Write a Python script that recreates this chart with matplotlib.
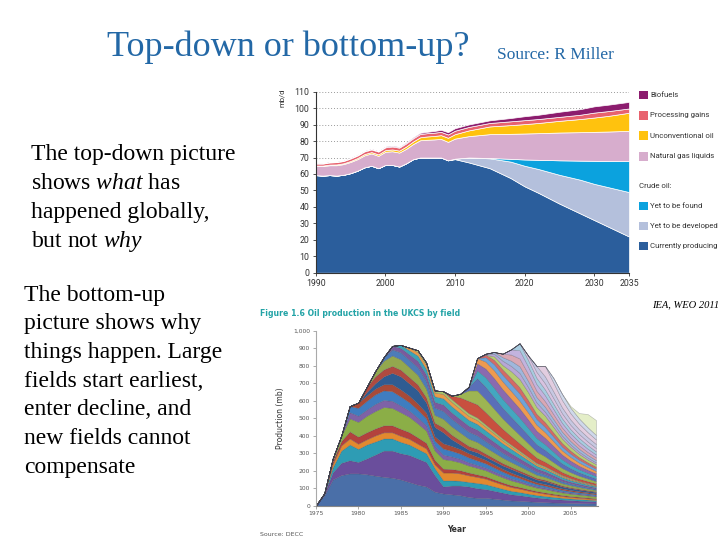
import matplotlib
matplotlib.use('Agg')
import matplotlib.pyplot as plt
import matplotlib.patches as mplpatches
import numpy as np

plt.rcParams['mathtext.fontset'] = 'custom'
plt.rcParams['mathtext.rm'] = 'Liberation Serif'
plt.rcParams['mathtext.it'] = 'Liberation Serif:italic'

# ---------------- top chart: IEA WEO 2011 world oil supply (mb/d) ----------------
weoYears = list(range(1990, 2011)) + [2012, 2015, 2018, 2020, 2022, 2025, 2028, 2030, 2032, 2035]
currentlyProducing = [59.3, 59, 59.3, 59, 59.5, 60.5, 62, 64, 65, 63.5, 65.5, 65.5, 64.5, 66.5, 69, 70, 70, 70, 70, 68.3, 69,
                      67, 63.5, 57.5, 52.5, 48.5, 42, 36, 32, 28, 22]
yetToBeDeveloped = [0] * 20 + [0.3, 3, 6, 10, 12.5, 14.5, 17.5, 20.5, 22, 24, 27]
yetToBeFound = [0] * 21 + [0, 0.2, 1.7, 3.8, 5.6, 8.8, 11.6, 14, 15.9, 18.8]
naturalGasLiquids = [5.5, 5.8, 6.0, 6.3, 6.5, 6.8, 7.0, 7.3, 7.5, 7.5, 8, 8.3, 8.5, 8.8, 9.2, 10.5, 10.8, 11, 11.3, 11.2, 12.2,
                     13, 14.5, 15.2, 15.8, 16.2, 16.9, 17.3, 17.6, 17.9, 18.4]
unconventionalOil = [0.3, 0.3, 0.4, 0.5, 0.5, 0.6, 0.7, 0.8, 0.8, 0.9, 1.0, 1.1, 1.2, 1.4, 1.6, 1.8, 2, 2.1, 2.3, 2.5, 2.7,
                     3.5, 4.7, 5.3, 5.7, 6.2, 7.1, 8, 8.7, 9.5, 11]
processingGains = [1.2, 1.2, 1.3, 1.4, 1.4, 1.5, 1.5, 1.6, 1.6, 1.7, 1.7, 1.8, 1.8, 1.9, 1.9, 2, 2, 2, 2, 2, 2.1,
                   2.1, 2.1, 2.3, 2.4, 2.4, 2.4, 2.6, 3, 2.9, 2.6]
biofuels = [0.3, 0.3, 0.3, 0.3, 0.3, 0.4, 0.4, 0.4, 0.4, 0.4, 0.5, 0.5, 0.5, 0.6, 0.6, 0.7, 0.8, 1.0, 1.2, 1.4, 1.5,
            1.5, 1.6, 2.0, 2.4, 2.6, 3.1, 3.4, 3.8, 3.9, 4]
weoLabels = ['Biofuels', 'Processing gains', 'Unconventional oil', 'Natural gas liquids',
             'Yet to be found', 'Yet to be developed', 'Currently producing']
weoColors = ['#8C1C6E', '#E8626E', '#FFC20E', '#D7ADCD', '#0BA2DE', '#B4C0DC', '#2B5E9C']

# ---------------- bottom chart: UKCS oil production by field (mb) ----------------
ukcsYears = list(range(1975, 2009))
# fields starting 1975-1980, values from 1975
fields1975 = [
    [0, 60, 150, 175, 185, 185, 180, 172, 165, 160, 150, 135, 120, 110, 80, 70, 65, 60, 50, 45, 45, 40, 35, 30, 28, 25, 22, 20, 18, 17, 16, 15, 14, 13],
    [0, 10, 40, 70, 75, 65, 90, 120, 150, 155, 150, 155, 150, 140, 95, 40, 50, 55, 60, 55, 50, 45, 40, 35, 32, 28, 25, 22, 20, 18, 16, 14, 13, 12],
    [0, 0, 30, 70, 90, 75, 80, 75, 70, 70, 65, 60, 55, 50, 40, 35, 30, 28, 26, 30, 28, 25, 22, 20, 18, 16, 14, 13, 12, 10, 9, 9, 8, 7],
    [0, 0, 20, 30, 35, 30, 30, 35, 35, 35, 35, 33, 30, 28, 22, 45, 45, 42, 38, 35, 32, 28, 25, 22, 20, 18, 16, 14, 12, 10, 9, 8, 7, 6],
    [0, 0, 15, 25, 40, 40, 40, 40, 40, 40, 40, 38, 36, 32, 25, 22, 20, 18, 16, 14, 13, 12, 11, 10, 9, 8, 7, 7, 6, 6, 5, 5, 5, 4],
    [0, 0, 15, 30, 75, 85, 95, 100, 105, 100, 95, 88, 80, 70, 55, 55, 50, 45, 40, 38, 35, 32, 30, 28, 25, 22, 20, 19, 17, 15, 14, 13, 12, 11],
    [0, 0, 0, 0, 35, 35, 35, 40, 40, 40, 38, 35, 33, 30, 25, 25, 22, 20, 18, 16, 15, 14, 12, 11, 10, 9, 8, 8, 7, 6, 6, 5, 5, 5],
    [0, 0, 0, 0, 35, 45, 50, 55, 55, 55, 52, 48, 45, 40, 30, 35, 32, 30, 28, 26, 24, 22, 20, 18, 16, 14, 12, 11, 10, 9, 8, 7, 7, 6],
    [0, 0, 0, 0, 0, 30, 30, 33, 35, 40, 40, 38, 36, 32, 25, 30, 28, 26, 24, 22, 20, 18, 16, 15, 13, 12, 10, 10, 9, 8, 7, 7, 6, 6],
    [0, 0, 0, 0, 0, 0, 20, 30, 45, 65, 75, 70, 75, 58, 53, 63, 38, 26, 20, 24, 18, 19, 19, 21, 19, 18, 16, 16, 14, 11, 10, 9, 8, 8],
]
# fields starting 1981-1987, values from 1981
fields1981 = [
    [30, 40, 40, 40, 38, 36, 34, 30, 25, 28, 26, 24, 22, 20, 18, 16, 14, 12, 11, 10, 9, 8, 7, 6, 5, 5, 4, 4],
    [0, 30, 50, 60, 60, 58, 55, 50, 45, 50, 48, 45, 42, 40, 37, 34, 31, 28, 25, 22, 19, 17, 15, 13, 12, 10, 9, 8],
    [0, 0, 20, 35, 40, 42, 45, 45, 42, 45, 44, 42, 40, 38, 35, 32, 29, 26, 23, 20, 17, 15, 13, 11, 10, 9, 8, 7],
    [0, 0, 0, 20, 25, 30, 35, 35, 32, 36, 35, 34, 33, 32, 30, 28, 26, 24, 22, 20, 18, 16, 14, 12, 10, 9, 8, 7],
    [0, 0, 0, 0, 17, 24, 30, 32, 32, 36, 36, 35, 34, 33, 31, 29, 27, 25, 22, 19, 16, 14, 13, 12, 10, 9, 8, 7],
    [0, 0, 0, 0, 0, 15, 20, 23, 22, 25, 25, 24, 23, 22, 21, 19, 17, 15, 13, 11, 9, 8, 7, 6, 5, 4, 4, 3],
    [0, 0, 0, 0, 0, 0, 11, 15, 12, 15, 16, 16, 16, 15, 13, 12, 11, 10, 9, 8, 7, 7, 6, 5, 5, 4, 4, 4],
]
# fields starting 1991-1996, values from 1991
fields1991 = [
    [20, 50, 70, 75, 70, 62, 55, 48, 42, 36, 30, 26, 22, 18, 15, 13, 11, 10],
    [0, 20, 60, 80, 75, 68, 60, 54, 48, 42, 36, 32, 27, 23, 20, 17, 15, 13],
    [0, 0, 20, 70, 70, 65, 60, 56, 52, 46, 40, 36, 31, 26, 22, 19, 17, 15],
    [0, 0, 0, 45, 55, 55, 52, 50, 48, 43, 37, 33, 29, 24, 21, 18, 16, 14],
    [0, 0, 0, 40, 50, 55, 55, 54, 52, 47, 41, 37, 32, 27, 23, 20, 17, 15],
    [0, 0, 0, 30, 40, 45, 45, 45, 44, 40, 35, 32, 28, 24, 21, 18, 16, 14],
    [0, 0, 0, 0, 25, 35, 38, 40, 42, 38, 33, 30, 26, 22, 19, 17, 15, 13],
    [0, 0, 0, 0, 15, 25, 30, 33, 35, 33, 29, 27, 23, 20, 17, 14, 12, 11],
    [0, 0, 0, 0, 0, 20, 25, 40, 47, 45, 39, 37, 32, 26, 22, 19, 16, 15],
]
# fields starting 1995-2005, values from 1995
fields1995 = [
    [5, 15, 25, 30, 35, 30, 26, 23, 20, 17, 14, 12, 11, 10],
    [0, 10, 20, 30, 38, 35, 31, 28, 25, 22, 19, 17, 15, 13],
    [0, 0, 20, 35, 45, 40, 36, 32, 28, 24, 21, 19, 17, 15],
    [0, 0, 0, 30, 47, 42, 38, 34, 30, 26, 23, 21, 19, 17],
    [0, 0, 0, 0, 40, 38, 36, 33, 30, 27, 24, 22, 20, 18],
    [0, 0, 0, 0, 0, 25, 34, 35, 32, 28, 25, 23, 21, 19],
    [0, 0, 0, 0, 0, 0, 34, 40, 38, 34, 30, 27, 25, 23],
    [0, 0, 0, 0, 0, 0, 0, 60, 50, 42, 36, 32, 29, 26],
    [0, 0, 0, 0, 0, 0, 0, 0, 27, 35, 32, 30, 28, 26],
    [0, 0, 0, 0, 0, 0, 0, 0, 0, 0, 9, 30, 75, 85],
]
colors1975 = ['#4A6FA8', '#6A4E9C', '#2E9CB4', '#E2892F', '#B3423D', '#8BAE47', '#7E62A6', '#3F7DC0', '#A84A38', '#2F5C92']
colors1981 = ['#B04A40', '#93A84E', '#4D7CB8', '#7A5A9E', '#3AA3B8', '#E89A48', '#A9C46A']
colors1991 = ['#C8503F', '#9DB552', '#5A6FB8', '#43A7C0', '#8A6AB0', '#EE9A50', '#6FA3D8', '#D46A66', '#B6CC72']
colors1995 = ['#B7A7D6', '#9FB7DC', '#D9A7B4', '#C3B3DE', '#A8CCE0', '#D8C3E0', '#C7C8E2', '#E2CDE0', '#CFD8EA', '#E4EEC8']


def pixelToFigure(x, y):
    return x / 720, 1 - y / 540


def padField(startYear, values):
    full = np.zeros(len(ukcsYears))
    i = ukcsYears.index(startYear)
    full[i:i + len(values)] = values
    return full


fig = plt.figure(figsize=(7.2, 5.4), dpi=100)

# ---------------- slide text ----------------
x, y = pixelToFigure(107, 47)
fig.text(x, y, 'Top-down or bottom-up?', fontsize=26, family='Liberation Serif', color='#2368A6', va='center')
x, y = pixelToFigure(497, 55)
fig.text(x, y, 'Source: R Miller', fontsize=12.5, family='Liberation Serif', color='#2368A6', va='center')

para1 = ['The top-down picture', r'shows $\mathit{what}$ has', 'happened globally,', r'but not $\mathit{why}$']
para2 = ['The bottom-up', 'picture shows why', 'things happen. Large', 'fields start earliest,',
         'enter decline, and', 'new fields cannot', 'compensate']
for i, line in enumerate(para1):
    x, y = pixelToFigure(31, 155 + i * 28.7)
    fig.text(x, y, line, fontsize=17, family='Liberation Serif', va='center')
for i, line in enumerate(para2):
    x, y = pixelToFigure(24, 295 + i * 28.7)
    fig.text(x, y, line, fontsize=17, family='Liberation Serif', va='center')

x, y = pixelToFigure(652, 305)
fig.text(x, y, 'IEA, WEO 2011', fontsize=7.6, family='Liberation Serif', style='italic', va='center')

# ---------------- top panel ----------------
narrow = ['Roboto', 'DejaVu Sans']
panel1 = plt.axes([315.7 / 720, 1 - 272.7 / 540, 313.3 / 720, 181 / 540])
series = [currentlyProducing, yetToBeDeveloped, yetToBeFound, naturalGasLiquids,
          unconventionalOil, processingGains, biofuels]
panel1.stackplot(weoYears, *series, colors=weoColors[::-1], edgecolor='white', linewidth=0.5)
panel1.set_xlim(1990, 2035)
panel1.set_ylim(0, 110)
panel1.set_yticks(range(0, 111, 10))
panel1.set_xticks([1990, 2000, 2010, 2020, 2030, 2035])
panel1.yaxis.grid(True, linestyle=(0, (1, 2)), color='#9A9A9A', linewidth=0.7)
panel1.set_axisbelow(True)
for side in ['top', 'right']:
    panel1.spines[side].set_visible(False)
panel1.spines['left'].set_color('#333333')
panel1.spines['bottom'].set_color('#333333')
panel1.tick_params(labelsize=6.3, length=2.5, width=0.6, color='#333333', labelcolor='#333333', pad=2)
for lab in panel1.get_xticklabels() + panel1.get_yticklabels():
    lab.set_family(narrow)
x, y = pixelToFigure(282, 98)
fig.text(x, y, 'mb/d', fontsize=5.5, rotation=90, va='center', ha='center', family=narrow, color='#333333')

legendRows = [95, 115.5, 135.7, 156.5, 206, 226, 246]
for label, color, row in zip(weoLabels, weoColors, legendRows):
    x, y = pixelToFigure(639, row + 4)
    fig.patches.append(mplpatches.Rectangle((x, y), 8.5 / 720, 8.5 / 540, transform=fig.transFigure,
                                            facecolor=color, edgecolor='none'))
    x, y = pixelToFigure(650, row)
    fig.text(x, y, label, fontsize=5.6, family=narrow, va='center', color='#333333')
x, y = pixelToFigure(639, 185.5)
fig.text(x, y, 'Crude oil:', fontsize=5.6, family=narrow, va='center', color='#333333')

# ---------------- bottom panel ----------------
panel2 = plt.axes([315.7 / 720, 1 - 505.7 / 540, 282 / 720, 174.7 / 540])
layers, layerColors = [], []
for start, group, cols in [(1975, fields1975, colors1975), (1981, fields1981, colors1981),
                           (1991, fields1991, colors1991), (1995, fields1995, colors1995)]:
    for values, col in zip(group, cols):
        layers.append(padField(start, values))
        layerColors.append(col)
panel2.stackplot(ukcsYears, *layers, colors=layerColors, edgecolor=(0.25, 0.25, 0.3, 0.35), linewidth=0.4)
panel2.set_xlim(1975, 2008.2)
panel2.set_ylim(0, 1000)
panel2.set_yticks(range(0, 1001, 100))
panel2.set_yticklabels(['0', '100', '200', '300', '400', '500', '600', '700', '800', '900', '1,000'])
panel2.set_xticks(range(1975, 2006, 5))
for side in ['top', 'right']:
    panel2.spines[side].set_visible(False)
panel2.spines['left'].set_color('#AAAAAA')
panel2.spines['bottom'].set_color('#888888')
panel2.tick_params(labelsize=4.3, length=2, width=0.5, color='#888888', labelcolor='#555555', pad=2)
panel2.set_xlabel('Year', fontsize=5.5, fontweight='bold', color='#333333', labelpad=6)
panel2.set_ylabel('Production (mb)', fontsize=5.5, color='#333333', labelpad=6)
x, y = pixelToFigure(260, 313)
fig.text(x, y, 'Figure 1.6 Oil production in the UKCS by field', fontsize=5.6, fontweight='bold',
         color='#22A3A6', va='center')
x, y = pixelToFigure(260, 535)
fig.text(x, y, 'Source: DECC', fontsize=4.5, color='#555555', va='center')

plt.savefig('out.png', dpi=100)
